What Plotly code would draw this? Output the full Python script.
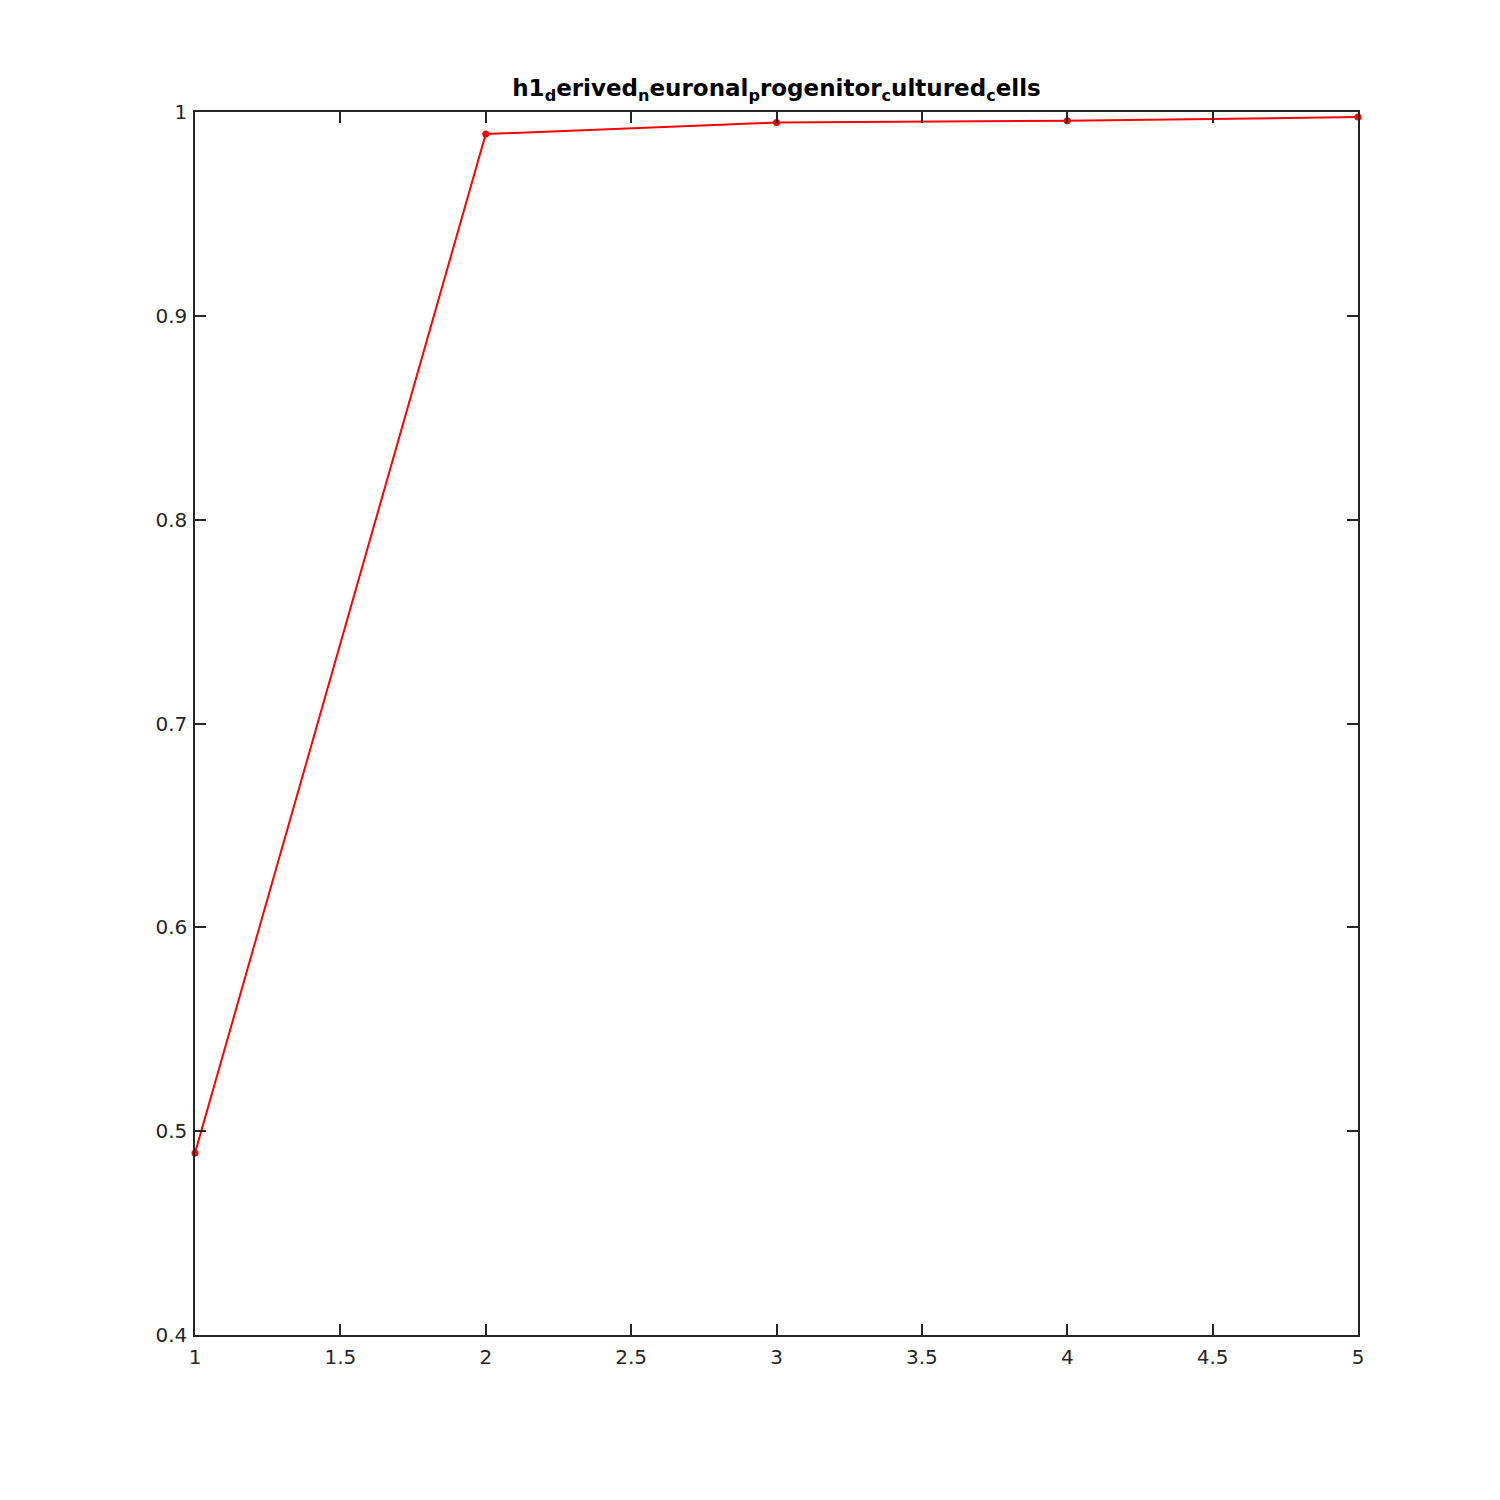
import plotly.graph_objects as go

x_vals = [1, 2, 3, 4, 5]
y_vals = [0.4893, 0.9892, 0.9948, 0.9957, 0.9975]
x_ticks = [1, 1.5, 2, 2.5, 3, 3.5, 4, 4.5, 5]
y_ticks = [0.4, 0.5, 0.6, 0.7, 0.8, 0.9, 1]
title_text = "<b>h1<sub>d</sub>erived<sub>n</sub>euronal<sub>p</sub>rogenitor<sub>c</sub>ultured<sub>c</sub>ells</b>"

fig = go.Figure()
fig.add_trace(go.Scatter(
    x=x_vals, y=y_vals, mode="lines+markers",
    line=dict(color="#ff0000", width=2),
    marker=dict(color="#ff0000", size=7),
    showlegend=False, cliponaxis=False,
))

axis_common = dict(
    showline=True, linecolor="#262626", linewidth=1.5,
    mirror="ticks", ticks="inside", ticklen=11, tickwidth=1.5, tickcolor="#262626",
    showgrid=False, zeroline=False,
    tickfont=dict(family="DejaVu Sans", size=20, color="#262626"),
)

fig.update_xaxes(range=[1, 5], tickvals=x_ticks, ticklabelstandoff=3,
                 ticktext=[("%g" % v) for v in x_ticks], **axis_common)
fig.update_yaxes(range=[0.4, 1], tickvals=y_ticks, ticklabelstandoff=2,
                 ticktext=[("%g" % v) for v in y_ticks], **axis_common)

fig.update_layout(
    width=1500, height=1500,
    margin=dict(l=187, r=150, t=104, b=173),
    paper_bgcolor="white", plot_bgcolor="white",
    title=dict(text=title_text, xref="paper", x=0.5, xanchor="center",
               y=1 - 80 / 1500, yanchor="middle",
               font=dict(family="DejaVu Sans", size=23, color="black")),
)

fig.write_html("out.html")
